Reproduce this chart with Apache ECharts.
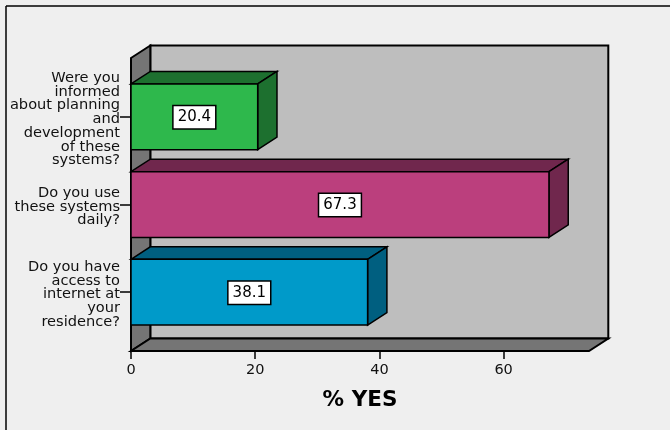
<!DOCTYPE html>
<html>
<head>
<meta charset="utf-8">
<style>html,body{margin:0;padding:0;background:#efefef}#chart{width:670px;height:430px}</style>
<script src="https://cdn.jsdelivr.net/npm/echarts@6/dist/echarts.min.js"></script>
</head>
<body>
<div id="chart"></div>
<script>
// Survey questions, listed from the bottom of the axis upward
const categories = [
  'Do you have\naccess to\ninternet at\nyour\nresidence?',
  'Do you use\nthese systems\ndaily?',
  'Were you\ninformed\nabout planning\nand\ndevelopment\nof these\nsystems?'
];
const percentYes = [38.1, 67.3, 20.4];
const frontColors = ['#009ac9', '#bb3f7d', '#2eb84c'];
const sideColors = ['#005f80', '#70274d', '#1d702f'];
const xTicks = [0, 20, 40, 60];
const xMax = 73.75;

// Oblique projection used for every box in the scene
const DEPTH_X = 19.3;
const DEPTH_Y = 12.5;
const FONT = '"DejaVu Sans", "Liberation Sans", Arial, sans-serif';
const LINE = '#000';

function poly(points, fill, width) {
  return { type: 'polygon', shape: { points }, style: { fill, stroke: LINE, lineWidth: width, lineJoin: 'miter' } };
}

// Back wall, left wall and floor around the plot area
function renderRoom(params) {
  const c = params.coordSys;
  const pad = 15;
  const l = c.x, r = c.x + c.width, t = c.y - pad, b = c.y + c.height + pad;
  const dx = DEPTH_X, dy = DEPTH_Y;
  return {
    type: 'group',
    children: [
      poly([[l + dx, t - dy], [r + dx, t - dy], [r + dx, b - dy], [l + dx, b - dy]], '#bebebe', 2),
      poly([[l, t], [l + dx, t - dy], [l + dx, b - dy], [l, b]], '#757575', 2),
      poly([[l, b], [l + dx, b - dy], [r + dx, b - dy], [r, b]], '#757575', 2)
    ]
  };
}

// One oblique bar with its boxed value label on the front face
function renderBar(params, api) {
  const i = api.value(2);
  const end = api.coord([api.value(0), api.value(1)]);
  const start = api.coord([0, api.value(1)]);
  const h = api.size([0, 1])[1] * 0.75;
  const x0 = start[0], x1 = end[0];
  const t = end[1] - h / 2, b = end[1] + h / 2;
  const dx = DEPTH_X, dy = DEPTH_Y;
  const side = sideColors[i];
  return {
    type: 'group',
    children: [
      poly([[x0, t], [x0 + dx, t - dy], [x1 + dx, t - dy], [x1, t]], side, 1.5),
      poly([[x1, t], [x1 + dx, t - dy], [x1 + dx, b - dy], [x1, b]], side, 1.5),
      poly([[x0, t], [x1, t], [x1, b], [x0, b]], frontColors[i], 1.5),
      {
        type: 'text',
        x: (x0 + x1) / 2,
        y: end[1] + 0.5,
        style: {
          text: api.value(0).toFixed(1),
          font: '15px ' + FONT,
          fill: '#000',
          align: 'center',
          verticalAlign: 'middle',
          backgroundColor: '#fff',
          borderColor: '#000',
          borderWidth: 1.5,
          padding: [4, 4, 3, 4]
        }
      }
    ]
  };
}

const chart = echarts.init(document.getElementById('chart'), null, { renderer: 'canvas' });
chart.setOption({
  backgroundColor: '#efefef',
  animation: false,
  graphic: [
    { type: 'line', shape: { x1: 6, y1: 6, x2: 670, y2: 6 }, style: { stroke: '#000', lineWidth: 1.5 } },
    { type: 'line', shape: { x1: 6, y1: 6, x2: 6, y2: 430 }, style: { stroke: '#000', lineWidth: 1.5 } }
  ],
  // The second grid only carries the question labels, set slightly below their ticks
  grid: [
    { left: 131, top: 73, width: 458, height: 263 },
    { left: 131, top: 75.5, width: 458, height: 263 }
  ],
  xAxis: [{
    type: 'value',
    gridIndex: 0,
    min: 0,
    max: xMax,
    interval: xTicks[1] - xTicks[0],
    offset: 15,
    splitLine: { show: false },
    axisLine: { show: false },
    axisTick: { show: true, length: 8, lineStyle: { color: '#000', width: 1.5 }, customValues: xTicks },
    axisLabel: {
      margin: 12,
      fontFamily: FONT,
      fontSize: 14.5,
      color: '#111',
      customValues: xTicks
    },
    name: '% YES',
    nameLocation: 'middle',
    nameGap: 38,
    nameTextStyle: { fontFamily: FONT, fontSize: 21.5, fontWeight: 'bold', color: '#000' }
  }, {
    type: 'value',
    gridIndex: 1,
    min: 0,
    max: xMax,
    show: false
  }],
  yAxis: [{
    type: 'category',
    gridIndex: 0,
    data: categories,
    axisLine: { show: false },
    axisTick: { show: true, alignWithLabel: true, length: 11, lineStyle: { color: '#000', width: 1.5 } },
    axisLabel: { show: false }
  }, {
    type: 'category',
    gridIndex: 1,
    data: categories,
    axisLine: { show: false },
    axisTick: { show: false },
    axisLabel: {
      margin: 11,
      fontFamily: FONT,
      fontSize: 14.6,
      lineHeight: 13.7,
      color: '#111',
      align: 'right'
    }
  }],
  series: [
    { type: 'custom', silent: true, z: 1, clip: false, renderItem: renderRoom, data: [0] },
    {
      type: 'custom',
      silent: true,
      z: 2,
      clip: false,
      encode: { x: 0, y: 1 },
      renderItem: renderBar,
      data: percentYes.map((v, i) => [v, i, i])
    }
  ]
});
</script>
</body>
</html>
